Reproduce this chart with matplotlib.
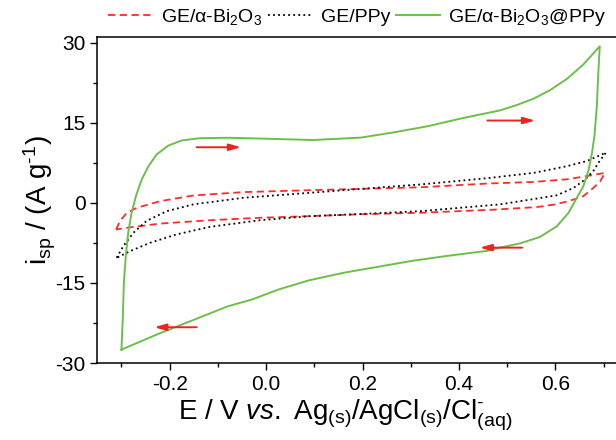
"""
Cyclic voltammograms of the three electrodes
"""
import matplotlib
import matplotlib.pyplot as plt
from matplotlib.ticker import MultipleLocator

matplotlib.use('Agg')

plt.rcParams['font.family'] = ['Liberation Sans', 'DejaVu Sans']
plt.rcParams['mathtext.fontset'] = 'custom'
plt.rcParams['mathtext.rm'] = 'Liberation Sans'
plt.rcParams['mathtext.it'] = 'Liberation Sans:italic'
plt.rcParams['mathtext.default'] = 'regular'
plt.rcParams['axes.unicode_minus'] = False

# GE/a-Bi2O3 (closed loop: anodic branch then cathodic branch)
bi_x = [-0.311, -0.303, -0.289, -0.268, -0.22, -0.151, -0.047, 0.091, 0.196, 0.32, 0.458, 0.555,
        0.624, 0.665, 0.703,
        0.693, 0.679, 0.658, 0.631, 0.60, 0.562, 0.47, 0.32, 0.196, 0.091, -0.012, -0.116, -0.22,
        -0.282, -0.311]
bi_y = [-5.0, -3.4, -1.9, -0.94, 0.3, 1.37, 2.0, 2.36, 2.6, 2.9, 3.6, 3.9,
        4.4, 5.0, 5.6,
        4.05, 2.8, 1.24, 0.4, -0.3, -0.8, -1.3, -1.87, -2.15, -2.5, -2.8, -3.26, -3.9,
        -4.6, -5.0]

# GE/PPy
ppy_x = [-0.31, -0.296, -0.275, -0.248, -0.206, -0.151, -0.047, 0.091, 0.196, 0.32, 0.458, 0.555,
         0.624, 0.665, 0.705,
         0.693, 0.679, 0.662, 0.638, 0.603, 0.555, 0.485, 0.32, 0.196, 0.091, -0.012, -0.116,
         -0.185, -0.241, -0.282, -0.31]
ppy_y = [-10.3, -8.1, -5.6, -3.4, -1.57, -0.3, 0.94, 1.87, 2.6, 3.43, 4.6, 5.6,
         6.85, 7.8, 9.4,
         8.0, 6.0, 4.4, 2.8, 1.4, 0.7, -0.3, -1.57, -2.1, -2.5, -3.26, -4.5,
         -5.9, -7.5, -9.06, -10.3]

# GE/a-Bi2O3@PPy
comp_x = [-0.30, -0.297, -0.295, -0.291, -0.286, -0.279, -0.27, -0.258, -0.244, -0.227, -0.203,
          -0.175, -0.137, -0.078, 0.0, 0.097, 0.196, 0.266, 0.336, 0.405, 0.485, 0.52, 0.555,
          0.589, 0.624, 0.658, 0.692,
          0.689, 0.686, 0.681, 0.676, 0.669, 0.658, 0.645, 0.627, 0.603, 0.568, 0.527, 0.485,
          0.458, 0.371, 0.301, 0.231, 0.161, 0.09, 0.027, -0.029, -0.08, -0.155, -0.225, -0.30]
comp_y = [-27.5, -21.2, -15.0, -10.0, -5.6, -1.9, 1.24, 4.36, 6.85, 9.05, 10.7,
          11.67, 12.1, 12.17, 12.0, 11.75, 12.2, 13.2, 14.35, 15.8, 17.3, 18.3, 19.5,
          21.1, 23.2, 25.9, 29.3,
          24.3, 18.1, 12.5, 9.4, 6.2, 3.1, 1.0, -1.9, -4.4, -6.4, -7.6, -8.4,
          -9.0, -10.0, -10.9, -12.0, -13.1, -14.5, -16.2, -18.1, -19.4, -22.1, -24.6, -27.5]

# scan direction arrows: (x_tail, x_head, y)
ARROWS = [(-0.144, -0.052, 10.4), (0.459, 0.558, 15.4), (0.531, 0.443, -8.4), (-0.144, -0.232, -23.3)]

fig = plt.figure(figsize=(6.16, 4.4), dpi=100)
ax = fig.add_axes([0.158, 0.175, 0.861, 0.7416])

ax.plot(bi_x, bi_y, color='#ff2a2a', lw=1.3, linestyle=(0, (4, 2.5)), label='GE/α-Bi$_2$O$_3$')
ax.plot(ppy_x, ppy_y, color='black', lw=1.3, linestyle=(0, (1, 1.8)), label='GE/PPy')
ax.plot(comp_x, comp_y, color='#6cbf4a', lw=1.4, solid_joinstyle='round',
        label='GE/α-Bi$_2$O$_3$@PPy')

for x0, x1, y in ARROWS:
    ax.annotate('', xy=(x1, y), xytext=(x0, y),
                arrowprops=dict(arrowstyle='-|>,head_length=0.7,head_width=0.2',
                                color='#ee2222', lw=1.4, shrinkA=0, shrinkB=0))

ax.set_xlim(-0.35, 0.75)
ax.set_ylim(-30, 31.1)
ax.set_xticks([-0.2, 0.0, 0.2, 0.4, 0.6])
ax.xaxis.set_minor_locator(MultipleLocator(0.1))
ax.yaxis.set_major_locator(MultipleLocator(15))
ax.yaxis.set_minor_locator(MultipleLocator(7.5))
ax.tick_params(which='major', direction='out', length=5, width=1, labelsize=15)
ax.tick_params(which='minor', direction='out', length=3, width=1)
ax.tick_params(top=False, right=False)
for s in ax.spines.values():
    s.set_linewidth(1.1)

ax.set_xlabel('E / V $\\mathit{vs.}$ Ag$_{(s)}$/AgCl$_{(s)}$/Cl$^{\\text{-}}_{(aq)}$', fontsize=20)
ax.xaxis.set_label_coords(0.467, -0.107, transform=ax.transAxes)
ax.xaxis.label.set_verticalalignment('top')
ax.set_ylabel('i$_{sp}$ / (A g$^{\\text{-}1}$)', fontsize=20, labelpad=-2)

fig.legend(loc='center', bbox_to_anchor=(0.58, 0.961), ncol=3, frameon=False, fontsize=14,
           handlelength=2.3, handletextpad=0.4, columnspacing=0.3, borderaxespad=0)

fig.savefig('out.png', dpi=100)
